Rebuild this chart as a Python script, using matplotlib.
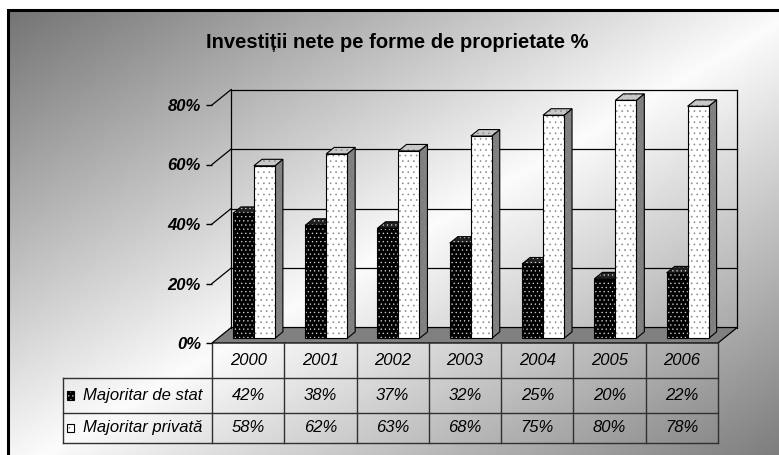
import numpy as np
import matplotlib.pyplot as plt
from matplotlib.patches import Polygon, Rectangle

# ---- data ----
years = ["2000", "2001", "2002", "2003", "2004", "2005", "2006"]
stat = [42, 38, 37, 32, 25, 20, 22]
privat = [58, 62, 63, 68, 75, 80, 78]
series = ["Majoritar de stat", "Majoritar privată"]
y_ticks = [0, 20, 40, 60, 80]
title = "Investiții nete pe forme de proprietate %"

plt.rcParams["font.family"] = ["Liberation Sans", "DejaVu Sans"]
plt.rcParams["hatch.linewidth"] = 0.45

W, H = 779, 455
fig = plt.figure(figsize=(W / 100, H / 100), dpi=100)

# ---- chart area: diagonal grey-white-grey fill + frame (pixel coords) ----
bg = fig.add_axes([0, 0, 1, 1])
fx0, fy0, fx1, fy1 = 8, 10, 800, 475
u, w = np.meshgrid(np.linspace(0, 1, 400), np.linspace(0, 1, 240))
t = (u + w) / 2
shade = 0.985 - 0.53 * np.abs(2 * t - 1)
bg.imshow(shade, cmap="gray", vmin=0, vmax=1, extent=(fx0, fx1, fy1, fy0),
          aspect="auto", interpolation="bilinear")
bg.plot([fx0, fx0, fx1], [fy1, fy0, fy0], color="black", lw=2.2,
        solid_joinstyle="miter")
bg.set_xlim(0, W)
bg.set_ylim(H, 0)
bg.set_axis_off()

fig.text(0.51, 1 - 43 / H, title, ha="center", va="center",
         fontsize=14.5, fontweight="bold")

# ---- plot area (front floor plane = axes box) ----
ax = fig.add_axes([212 / W, 1 - 343 / H, 506 / W, 238 / H])
ax.set_xlim(-0.5, 6.5)
ax.set_ylim(0, 80)
ax.patch.set_visible(False)
for s in ax.spines.values():
    s.set_visible(False)
ax.set_xticks([])
ax.set_yticks(y_ticks, [f"{v}%" for v in y_ticks],
              fontweight="bold", fontstyle="italic")
ax.tick_params(axis="y", length=4, width=1, pad=4, labelsize=12)

DX, DY = 0.265, 5.2          # depth offset of the 3d box
F0, F1 = 0.3, 0.72           # bar front / back depth fraction
BW = 0.29                    # bar width
n = len(years)
x_lo, x_hi = -0.5, n - 0.5
LW = 0.9

# floor
ax.add_patch(Polygon([(x_lo, 0), (x_hi, 0), (x_hi + DX, DY), (x_lo + DX, DY)],
                     closed=True, facecolor="#808080", edgecolor="black",
                     lw=LW, clip_on=False, zorder=1))
# back wall + side wall grid
for g in y_ticks[1:]:
    ax.plot([x_lo + DX, x_hi + DX], [g + DY, g + DY], color="black", lw=LW,
            clip_on=False, zorder=1)
    ax.plot([x_lo, x_lo + DX], [g, g + DY], color="black", lw=LW,
            clip_on=False, zorder=1)
for xe in (x_lo + DX, x_hi + DX):
    ax.plot([xe, xe], [DY, y_ticks[-1] + DY], color="black", lw=LW,
            clip_on=False, zorder=1)


def bar3d(x0, h, face, dots, side, top, hatch):
    xf, yf = x0 + F0 * DX, F0 * DY
    xb, yb = x0 + F1 * DX, F1 * DY
    front = [(xf, yf), (xf + BW, yf), (xf + BW, yf + h), (xf, yf + h)]
    sidep = [(xf + BW, yf), (xb + BW, yb), (xb + BW, yb + h), (xf + BW, yf + h)]
    topp = [(xf, yf + h), (xf + BW, yf + h), (xb + BW, yb + h), (xb, yb + h)]
    for poly, fc in ((sidep, side), (topp, top), (front, face)):
        ax.add_patch(Polygon(poly, closed=True, facecolor=fc, edgecolor=dots,
                             hatch=hatch, lw=0, clip_on=False, zorder=2))
        ax.add_patch(Polygon(poly, closed=True, fill=False, edgecolor="black",
                             lw=0.8, clip_on=False, zorder=2))


for i in range(n):
    bar3d(i - BW, stat[i], "black", "#d0d0d0", "#303030", "#202020", "....")
    bar3d(i, privat[i], "white", "#8a8a8a", "#808080", "#c8c8c8", "...")

# ---- data table ----
r0, r1, r2, r3 = 0, -11.8, -23.5, -33.6
x_lab = -2.56
tc = "#303030"
kw = dict(color=tc, lw=1, clip_on=False, zorder=1)
for k in range(n + 1):
    ax.plot([x_lo + k, x_lo + k], [r0, r3], **kw)
ax.plot([x_lab, x_lab], [r1, r3], **kw)
for r in (r1, r2, r3):
    ax.plot([x_lab, x_hi], [r, r], **kw)

tkw = dict(ha="center", va="center", fontsize=12, fontstyle="italic",
           clip_on=False)
for i in range(n):
    ax.text(i, (r0 + r1) / 2, years[i], **tkw)
    ax.text(i, (r1 + r2) / 2, f"{stat[i]}%", **tkw)
    ax.text(i, (r2 + r3) / 2, f"{privat[i]}%", **tkw)

key_w, key_h = 0.09, 2.8
key_x = x_lab + 0.06
for (ra, rb), name, fc, hc, hat in (((r1, r2), series[0], "black", "#d0d0d0", "...."),
                                   ((r2, r3), series[1], "white", "#8a8a8a", "...")):
    yc = (ra + rb) / 2
    ax.add_patch(Rectangle((key_x, yc - key_h / 2), key_w, key_h, facecolor=fc,
                           edgecolor=hc, hatch=hat, lw=0, clip_on=False))
    ax.add_patch(Rectangle((key_x, yc - key_h / 2), key_w, key_h, fill=False,
                           edgecolor="black", lw=0.8, clip_on=False))
    ax.text(key_x + 0.22, yc, name, ha="left", va="center", fontsize=12,
            fontstyle="italic", clip_on=False)

fig.savefig("out.png", dpi=100)
